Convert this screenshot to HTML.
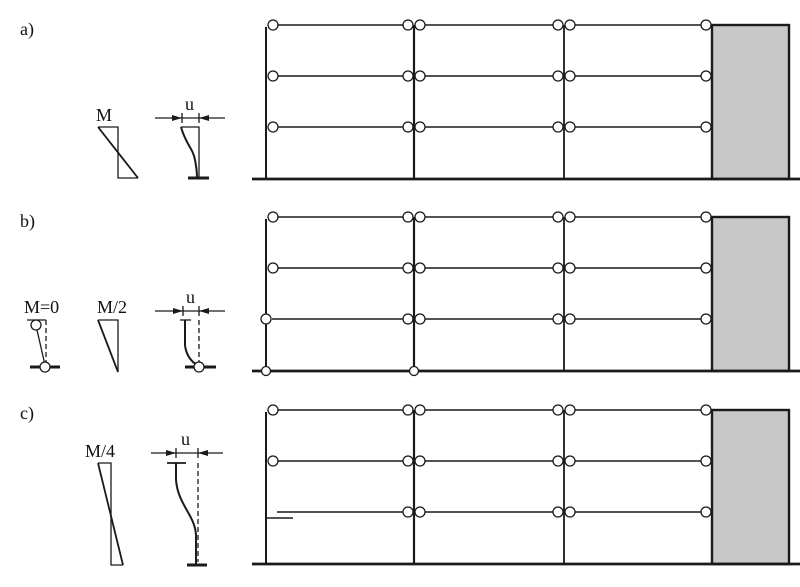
<!DOCTYPE html>
<html><head><style>body{margin:0;background:#fff}svg{display:block}text{font-family:"Liberation Serif",serif;fill:#111}</style></head>
<body>
<svg width="800" height="587" viewBox="0 0 800 587" xmlns="http://www.w3.org/2000/svg">
<defs>
<g id="frame" stroke="#1a1a1a" fill="none">
  <rect x="712" y="25" width="77" height="154" fill="#c8c8c8" stroke-width="2.4"/>
  <line x1="414" y1="25" x2="414" y2="179" stroke-width="2.2"/>
  <line x1="564" y1="25" x2="564" y2="179" stroke-width="1.8"/>
  <line x1="252" y1="179" x2="800" y2="179" stroke-width="2.8"/>
  <g stroke-width="1.6">
    <line x1="278" y1="25" x2="403" y2="25"/><line x1="425" y1="25" x2="553" y2="25"/><line x1="575" y1="25" x2="701" y2="25"/>
    <line x1="278" y1="76" x2="403" y2="76"/><line x1="425" y1="76" x2="553" y2="76"/><line x1="575" y1="76" x2="701" y2="76"/>
    <line x1="425" y1="127" x2="553" y2="127"/><line x1="575" y1="127" x2="701" y2="127"/>
  </g>
  <g fill="#fff" stroke-width="1.3">
    <circle cx="408" cy="25" r="5"/><circle cx="420" cy="25" r="5"/><circle cx="558" cy="25" r="5"/><circle cx="570" cy="25" r="5"/><circle cx="706" cy="25" r="5"/>
    <circle cx="408" cy="76" r="5"/><circle cx="420" cy="76" r="5"/><circle cx="558" cy="76" r="5"/><circle cx="570" cy="76" r="5"/><circle cx="706" cy="76" r="5"/>
    <circle cx="408" cy="127" r="5"/><circle cx="420" cy="127" r="5"/><circle cx="558" cy="127" r="5"/><circle cx="570" cy="127" r="5"/><circle cx="706" cy="127" r="5"/>
    <circle cx="273" cy="25" r="5"/><circle cx="273" cy="76" r="5"/>
  </g>
</g>
</defs>

<text x="20" y="35" font-size="18">a)</text>
<text x="20" y="227" font-size="18">b)</text>
<text x="20" y="419" font-size="18">c)</text>

<use href="#frame"/>
<g stroke="#1a1a1a" fill="none" stroke-width="2">
  <line x1="266" y1="27" x2="266" y2="179"/>
  <line x1="278" y1="127" x2="403" y2="127" stroke-width="1.6"/>
</g>
<circle cx="273" cy="127" r="5" fill="#fff" stroke="#1a1a1a" stroke-width="1.3"/>

<g transform="translate(0,192)"><use href="#frame"/>
<g stroke="#1a1a1a" fill="none" stroke-width="2">
  <line x1="266" y1="27" x2="266" y2="179"/>
  <line x1="272" y1="127" x2="403" y2="127" stroke-width="1.6"/>
</g>
<g fill="#fff" stroke="#1a1a1a" stroke-width="1.3"><circle cx="266" cy="127" r="5"/><circle cx="266" cy="179" r="4.5"/><circle cx="414" cy="179" r="4.5"/></g>
</g>

<g transform="translate(0,385)"><use href="#frame"/>
<g stroke="#1a1a1a" fill="none" stroke-width="2">
  <line x1="266" y1="27" x2="266" y2="179"/>
  <line x1="277" y1="127" x2="403" y2="127" stroke-width="1.6"/>
  <line x1="266" y1="133" x2="293" y2="133" stroke-width="1.6"/>
</g>
</g>

<g stroke="#1a1a1a" fill="none" stroke-width="1.3">
  <polyline points="98,127 118,127 118,178 138,178"/>
  <line x1="98" y1="127" x2="138" y2="178" stroke-width="1.8"/>
  <line x1="155" y1="118" x2="225" y2="118"/>
  <line x1="182" y1="113" x2="182" y2="123"/><line x1="199" y1="113" x2="199" y2="123"/>
  <polyline points="181,127 199,127 199,178"/>
  <path d="M181,127 C186,145 193,148 195,160 C197,170 197,175 197,178" stroke-width="2"/>
  <line x1="188" y1="178" x2="209" y2="178" stroke-width="3"/>
  <line x1="27" y1="320" x2="46" y2="320"/>
  <line x1="46" y1="320" x2="46" y2="365" stroke-dasharray="5,3"/>
  <line x1="37" y1="330" x2="45" y2="365"/>
  <line x1="30" y1="367" x2="60" y2="367" stroke-width="3"/>
  <circle cx="36" cy="325" r="5" fill="#fff"/>
  <circle cx="45" cy="367" r="5" fill="#fff"/>
  <polyline points="98,320 118,320 118,372"/>
  <line x1="98" y1="320" x2="118" y2="372" stroke-width="1.8"/>
  <line x1="155" y1="311" x2="225" y2="311"/>
  <line x1="183" y1="306" x2="183" y2="316"/><line x1="199" y1="306" x2="199" y2="316"/>
  <line x1="180" y1="320" x2="191" y2="320"/>
  <line x1="199" y1="320" x2="199" y2="363" stroke-dasharray="5,3"/>
  <path d="M185,320 L185,345 C186,356 192,362 198,366" stroke-width="2"/>
  <line x1="185" y1="367" x2="216" y2="367" stroke-width="3"/>
  <circle cx="199" cy="367" r="5" fill="#fff"/>
  <polyline points="98,463 111,463 111,565 123,565"/>
  <line x1="98" y1="463" x2="123" y2="565" stroke-width="1.8"/>
  <line x1="151" y1="453" x2="223" y2="453"/>
  <line x1="176" y1="448" x2="176" y2="458"/><line x1="198" y1="448" x2="198" y2="458"/>
  <line x1="167" y1="463" x2="186" y2="463" stroke-width="1.8"/>
  <line x1="198" y1="463" x2="198" y2="562" stroke-dasharray="5,3"/>
  <path d="M176,463 L176,480 C178,505 195,515 196,535 L196,565" stroke-width="2"/>
  <line x1="187" y1="565" x2="207" y2="565" stroke-width="3"/>
</g>
<g fill="#1a1a1a">
  <polygon points="182,118 172,115 172,121"/><polygon points="199,118 209,115 209,121"/>
  <polygon points="183,311 173,308 173,314"/><polygon points="199,311 209,308 209,314"/>
  <polygon points="176,453 166,450 166,456"/><polygon points="198,453 208,450 208,456"/>
</g>
<g font-size="18">
  <text x="96" y="121">M</text>
  <text x="185" y="110">u</text>
  <text x="24" y="313">M=0</text>
  <text x="97" y="313">M/2</text>
  <text x="186" y="303">u</text>
  <text x="85" y="457">M/4</text>
  <text x="181" y="445">u</text>
</g>
</svg>
</body></html>
